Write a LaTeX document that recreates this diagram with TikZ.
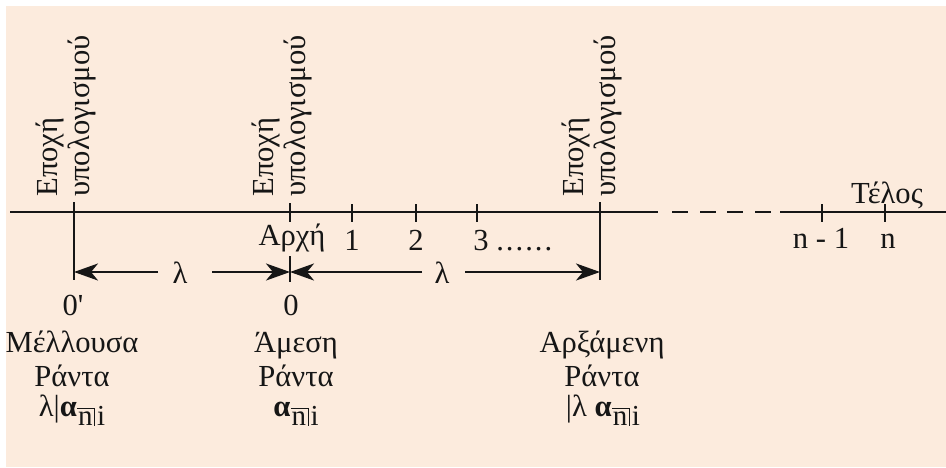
\documentclass[tikz,border=0pt]{standalone}
\usepackage{fontspec}
\setmainfont{Liberation Serif}
\usetikzlibrary{arrows.meta}
\definecolor{bgpeach}{RGB}{252,235,221}
\definecolor{ink}{RGB}{22,22,22}
\newcommand{\annsub}{\begingroup\fontsize{14.5}{14.5}\selectfont
  \setbox0=\vbox{\hrule height 0.6pt\kern1.6pt\hbox{\kern0.3pt n\kern0.8pt}}%
  \raisebox{-4.8pt}{\copy0\vrule width 0.6pt height \ht0 depth 0pt\kern0.9pt i}\endgroup}
\newcommand{\annsym}{\textbf{α}\kern0.3pt\annsub}
\begin{document}
\begin{tikzpicture}[x=0.5pt,y=-0.5pt,
  lbl/.style={inner sep=0pt, font=\fontsize{15.3}{16.5}\selectfont, text=ink},
  vlbl/.style={lbl, rotate=90, anchor=base west},
  axisln/.style={draw=ink, line width=1.35pt},
  tickln/.style={draw=ink, line width=1.25pt},
  dimln/.style={draw=ink, line width=1.25pt, -{Stealth[length=12pt,width=8.5pt,inset=3.5pt]}}]
\useasboundingbox (0,0) rectangle (946,467);
\fill[bgpeach] (6,6) rectangle (946,467);

% axis
\coordinate (axL) at (10,212);
\coordinate (axS1) at (658,212);
\coordinate (axS2) at (780,212);
\coordinate (axR) at (946,212);
\draw[axisln] (axL) -- (axS1);
\foreach \xa/\xb in {672/688,700/716,727/743,755/771}{
  \coordinate (dsa\xa) at (\xa,212); \coordinate (dsb\xa) at (\xb,212);
  \draw[axisln] (dsa\xa) -- (dsb\xa);
}
\draw[axisln] (axS2) -- (axR);

% long verticals
\coordinate (Ftop) at (74,202);  \coordinate (Fbot) at (74,280);
\coordinate (Dtop) at (600,202); \coordinate (Dbot) at (600,280);
\draw[tickln] (Ftop) -- (Fbot);
\draw[tickln] (Dtop) -- (Dbot);

% ticks
\coordinate (Ttop) at (290,203); \coordinate (Tbot) at (290,222);
\draw[tickln] (Ttop) -- (Tbot);
\coordinate (T0a) at (290,256); \coordinate (T0b) at (290,282);
\draw[tickln] (T0a) -- (T0b);
\foreach \xx/\nm in {352/t1,416/t2,477/t3,822/tn1,885/tn}{
  \coordinate (\nm a) at (\xx,204); \coordinate (\nm b) at (\xx,222);
  \draw[tickln] (\nm a) -- (\nm b);
}

% top rotated labels
\foreach \xx/\nm in {74/ea,290/eb,600/ec}{
  \node[vlbl] (\nm1) at (\xx-17,197) {Εποχή};
  \node[vlbl] (\nm2) at (\xx+15,197) {υπολογισμού};
}

% axis labels
\node[lbl, anchor=base] (arx) at (292,245) {Αρχή};
\node[lbl, anchor=base] (n1) at (352,250) {1};
\node[lbl, anchor=base] (n2) at (416,250) {2};
\node[lbl, anchor=base west] (n3) at (473,250) {3 \foreach \k in {1,...,6}{.\kern1pt}};
\node[lbl, anchor=base] (nn1) at (821,248) {n - 1};
\node[lbl, anchor=base] (nn) at (888,248) {n};
\node[lbl, anchor=base] (telos) at (887,203) {Τέλος};

% lambda dimension arrows
\node[lbl, anchor=base] (lam1) at (180,283) {λ};
\node[lbl, anchor=base] (lam2) at (442,283) {λ};
\coordinate (a1L) at (74,272);  \coordinate (a1a) at (158,272);
\coordinate (a1b) at (212,272); \coordinate (a1R) at (290,272);
\coordinate (a2L) at (290,272); \coordinate (a2a) at (422,272);
\coordinate (a2b) at (465,272); \coordinate (a2R) at (600,272);
\draw[dimln] (a1a) -- (a1L);
\draw[dimln] (a1b) -- (a1R);
\draw[dimln] (a2a) -- (a2L);
\draw[dimln] (a2b) -- (a2R);

% zero labels
\node[lbl, anchor=base] (z1) at (73,315) {0\textquotesingle};
\node[lbl, anchor=base] (z0) at (291,315) {0};

% bottom labels
\node[lbl, anchor=base] (f1) at (72,352) {Μέλλουσα};
\node[lbl, anchor=base] (f2) at (72,386) {Ράντα};
\node[lbl, anchor=base] (f3) at (72,416) {λ|\annsym};

\node[lbl, anchor=base] (m1) at (296,352) {Άμεση};
\node[lbl, anchor=base] (m2) at (296,386) {Ράντα};
\node[lbl, anchor=base] (m3) at (296,416) {\annsym};

\node[lbl, anchor=base] (d1) at (602,352) {Αρξάμενη};
\node[lbl, anchor=base] (d2) at (602,386) {Ράντα};
\node[lbl, anchor=base] (d3) at (603,416) {|λ \annsym};
\end{tikzpicture}
\end{document}
